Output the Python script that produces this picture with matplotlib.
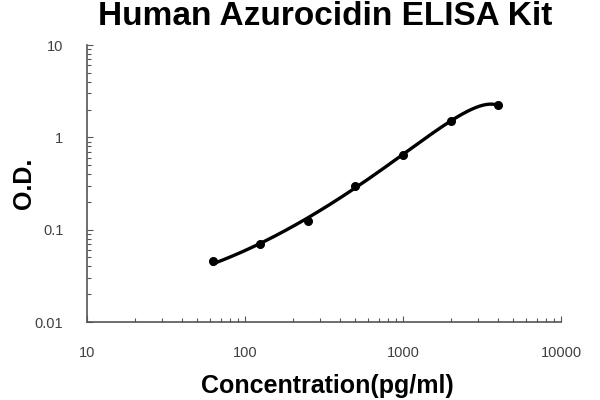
import numpy as np
import matplotlib
matplotlib.use("Agg")
import matplotlib.pyplot as plt
from matplotlib.ticker import LogLocator, FixedLocator, FixedFormatter, NullFormatter

conc = [62.5, 125, 250, 500, 1000, 2000, 4000]
od = [0.046, 0.0705, 0.125, 0.294, 0.65, 1.50, 2.22]
x_ticks = [10, 100, 1000, 10000]
x_labels = ["10", "100", "1000", "10000"]
y_ticks = [0.01, 0.1, 1, 10]
y_labels = ["0.01", "0.1", "1", "10"]

plt.rcParams['font.family'] = ['Liberation Sans', 'DejaVu Sans']

fig = plt.figure(figsize=(6, 4), dpi=100)
ax = fig.add_axes([0.145, 0.195, 0.79, 0.6925])

# polynomial trend line (linear space), drawn on log axes
coef = np.polyfit(conc, od, 3)
xs = np.logspace(np.log10(conc[0]), np.log10(conc[-1]), 400)
ax.plot(xs, np.polyval(coef, xs), color='black', lw=2.4)
ax.plot(conc, od, 'o', color='black', ms=5.5)

ax.set_xscale('log')
ax.set_yscale('log')
ax.set_xlim(10, 10000)
ax.set_ylim(0.01, 10)

ax.xaxis.set_major_locator(FixedLocator(x_ticks))
ax.xaxis.set_major_formatter(FixedFormatter(x_labels))
ax.yaxis.set_major_locator(FixedLocator(y_ticks))
ax.yaxis.set_major_formatter(FixedFormatter(y_labels))
ax.xaxis.set_minor_locator(LogLocator(base=10, subs=np.arange(2, 10)))
ax.yaxis.set_minor_locator(LogLocator(base=10, subs=np.arange(2, 10)))
ax.xaxis.set_minor_formatter(NullFormatter())
ax.yaxis.set_minor_formatter(NullFormatter())

ax.tick_params(which='both', direction='in', color='#555555', width=0.8)
ax.tick_params(which='major', length=4, labelsize=10.5, labelcolor='#404040')
ax.tick_params(which='minor', length=3)
ax.tick_params(axis='y', which='major', pad=17)
ax.tick_params(axis='x', which='major', pad=17.5)

for s in ['top', 'right']:
    ax.spines[s].set_visible(False)
for s in ['left', 'bottom']:
    ax.spines[s].set_color('#555555')
    ax.spines[s].set_linewidth(1.2)

fig.text(0.5417, 0.9375, "Human Azurocidin ELISA Kit", ha='center', va='baseline',
         fontsize=24, fontweight='bold')
fig.text(0.545, 0.0175, "Concentration(pg/ml)", ha='center', va='baseline',
         fontsize=18, fontweight='bold')
fig.text(0.04, 0.5425, "O.D.", ha='center', va='center', rotation=90,
         fontsize=18, fontweight='bold')

fig.savefig("out.png", dpi=100)
